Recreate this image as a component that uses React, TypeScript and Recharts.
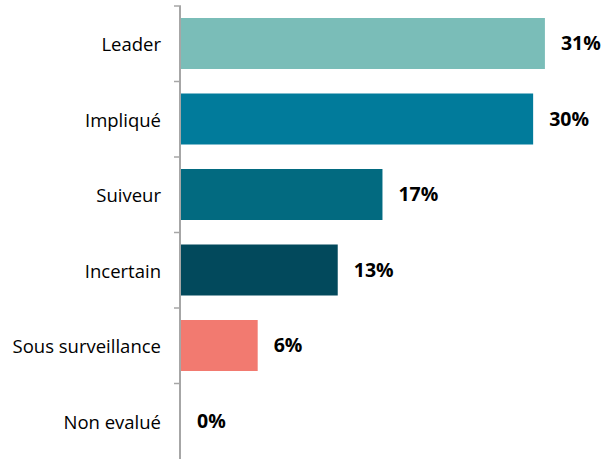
import { BarChart, Bar, XAxis, YAxis, Cell, LabelList } from 'recharts'

const categories = ['Leader', 'Impliqué', 'Suiveur', 'Incertain', 'Sous surveillance', 'Non evalué']
const shares = [31, 30, 17.2, 13.4, 6.6, 0]
const shareLabels = ['31%', '30%', '17%', '13%', '6%', '0%']
const barColors = ['#7abdb8', '#017b9b', '#026a80', '#02495c', '#f27a70', 'transparent']

const data = categories.map((name, i) => ({ name, value: shares[i], label: shareLabels[i] }))

const FONT = '"Open Sans", Lato, sans-serif'
const AXIS_COLOR = '#a6a6a6'
const HALF_BAND = 37.75

function CategoryTick(props: any) {
  const { x, y, payload } = props
  return (
    <g>
      <line x1={x + 2} x2={x + 9} y1={y - HALF_BAND} y2={y - HALF_BAND} stroke={AXIS_COLOR} strokeWidth={1.5} />
      <text x={x - 11} y={y} textAnchor="end" dominantBaseline="central" fontSize={18.5} fill="#000" fontFamily={FONT}>
        {payload.value}
      </text>
    </g>
  )
}

export default function App() {
  return (
    <div style={{ position: 'absolute', left: 0, top: 0, background: '#fff' }}>
      <BarChart
        width={605}
        height={459}
        data={data}
        layout="vertical"
        margin={{ top: 6, right: 13, bottom: 0, left: 0 }}
      >
        <XAxis type="number" domain={[0, 35]} hide />
        <YAxis
          type="category"
          dataKey="name"
          width={180}
          axisLine={{ stroke: AXIS_COLOR, strokeWidth: 2 }}
          tickLine={false}
          tick={<CategoryTick />}
          interval={0}
        />
        <Bar dataKey="value" barSize={51} minPointSize={1} isAnimationActive={false}>
          {data.map((d, i) => (
            <Cell key={d.name} fill={barColors[i]} />
          ))}
          <LabelList
            dataKey="label"
            position="right"
            offset={16}
            fontSize={19.5}
            fontWeight="bold"
            fill="#000"
            fontFamily={FONT}
          />
        </Bar>
      </BarChart>
    </div>
  )
}
